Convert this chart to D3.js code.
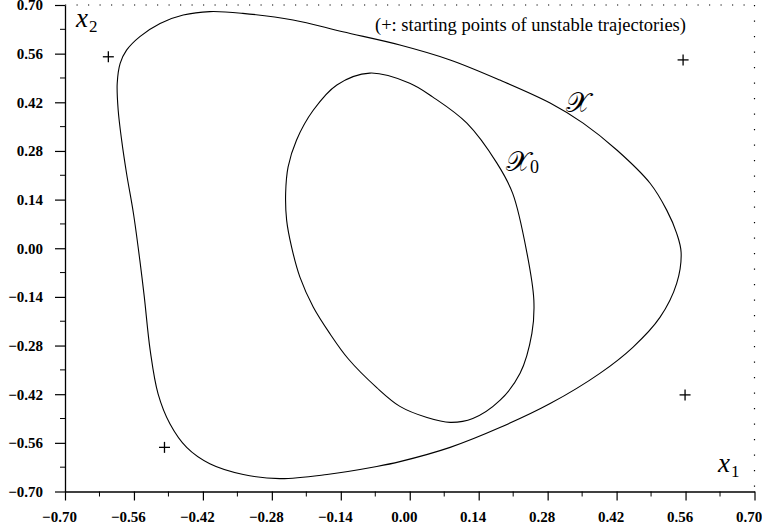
<!DOCTYPE html>
<html>
<head>
<meta charset="utf-8">
<script src="https://cdn.jsdelivr.net/npm/d3@7"></script>
<style>
  body { margin: 0; background: #fff; }
  svg { display: block; }
</style>
</head>
<body>
<svg id="chart" width="762" height="530"></svg>
<script>
// tick values for both axes
const tickValues = [-0.70, -0.56, -0.42, -0.28, -0.14, 0.00, 0.14, 0.28, 0.42, 0.56, 0.70];
const minorTicks = [-0.63, -0.49, -0.35, -0.21, -0.07, 0.07, 0.21, 0.35, 0.49, 0.63];

// outer region X
const outerX = [[-0.406,0.681],[-0.339,0.676],[-0.237,0.657],[-0.136,0.623],[-0.020,0.585],[0.082,0.542],
  [0.183,0.484],[0.285,0.418],[0.352,0.360],[0.421,0.282],[0.488,0.187],[0.522,0.109],[0.542,0.043],
  [0.551,-0.012],[0.542,-0.101],[0.508,-0.199],[0.453,-0.285],[0.386,-0.360],[0.285,-0.447],
  [0.183,-0.516],[0.082,-0.573],[-0.020,-0.614],[-0.067,-0.628],[-0.168,-0.651],[-0.264,-0.663],
  [-0.338,-0.651],[-0.406,-0.620],[-0.453,-0.573],[-0.487,-0.505],[-0.511,-0.419],[-0.527,-0.294],
  [-0.539,-0.140],[-0.548,-0.035],[-0.561,0.100],[-0.575,0.215],[-0.585,0.311],[-0.592,0.397],
  [-0.594,0.474],[-0.588,0.532],[-0.575,0.570],[-0.548,0.609],[-0.507,0.647],[-0.460,0.671]];

// inner region X0
const innerX0 = [[-0.081,0.504],[0.000,0.475],[0.047,0.435],[0.116,0.360],[0.177,0.245],[0.209,0.158],
  [0.238,-0.014],[0.252,-0.150],[0.248,-0.245],[0.224,-0.360],[0.183,-0.438],[0.128,-0.490],
  [0.082,-0.501],[0.035,-0.487],[-0.020,-0.455],[-0.067,-0.401],[-0.125,-0.318],[-0.162,-0.246],
  [-0.196,-0.169],[-0.223,-0.083],[-0.240,0.004],[-0.250,0.081],[-0.252,0.158],[-0.247,0.234],
  [-0.230,0.311],[-0.196,0.397],[-0.148,0.470]];

// starting points of unstable trajectories
const unstablePts = [[-0.612,0.551],[0.555,0.542],[0.559,-0.422],[-0.498,-0.573]];

const svg = d3.select("#chart");
const x = d3.scaleLinear().domain([-0.7, 0.7]).range([65, 754.5]);
const y = d3.scaleLinear().domain([-0.7, 0.7]).range([491.5, 5]);

const fmt = d3.format(".2f");
const serif = "'Liberation Serif', 'Times New Roman', serif";

// dotted frame top / right
svg.append("line")
  .attr("x1", x(-0.7)).attr("x2", x(0.7)).attr("y1", y(0.7)).attr("y2", y(0.7))
  .attr("stroke", "#000").attr("stroke-width", 1.2).attr("stroke-dasharray", "1.2,10.3");
svg.append("line")
  .attr("x1", x(0.7)).attr("x2", x(0.7)).attr("y1", y(0.7)).attr("y2", y(-0.7))
  .attr("stroke", "#000").attr("stroke-width", 1.2).attr("stroke-dasharray", "1.2,14.3");

// axes
const xAxis = svg.append("g")
  .attr("transform", `translate(0,${y(-0.7)})`)
  .call(d3.axisBottom(x).tickValues(tickValues).tickFormat(fmt).tickSize(9).tickSizeOuter(0));
xAxis.selectAll(".tick text").attr("dx", -6).attr("y", 30).attr("dy", 0);

const yAxis = svg.append("g")
  .attr("transform", `translate(${x(-0.7)},0)`)
  .call(d3.axisLeft(y).tickValues(tickValues).tickFormat(fmt).tickSize(10).tickSizeOuter(0));
yAxis.selectAll(".tick text").attr("x", -22);

svg.selectAll("g").attr("font-family", serif).attr("font-size", 15).attr("font-weight", "bold");
svg.selectAll(".domain").attr("stroke-width", 1.3);
svg.selectAll(".tick line").attr("stroke-width", 1.2);

// minor ticks
svg.append("g").selectAll("line").data(minorTicks).join("line")
  .attr("x1", d => x(d)).attr("x2", d => x(d))
  .attr("y1", y(-0.7)).attr("y2", y(-0.7) + 5)
  .attr("stroke", "#000").attr("stroke-width", 1);
svg.append("g").selectAll("line").data(minorTicks).join("line")
  .attr("y1", d => y(d)).attr("y2", d => y(d))
  .attr("x1", x(-0.7)).attr("x2", x(-0.7) - 5)
  .attr("stroke", "#000").attr("stroke-width", 1);

// the two regions
const line = d3.line().x(d => x(d[0])).y(d => y(d[1])).curve(d3.curveCatmullRomClosed.alpha(0.5));
svg.selectAll(".region").data([outerX, innerX0]).join("path")
  .attr("class", "region")
  .attr("d", line)
  .attr("fill", "none").attr("stroke", "#000").attr("stroke-width", 1.1);

// plus markers
const plus = svg.append("g").selectAll("g").data(unstablePts).join("g")
  .attr("transform", d => `translate(${x(d[0])},${y(d[1])})`);
plus.append("line").attr("x1", -5.5).attr("x2", 5.5).attr("stroke", "#000").attr("stroke-width", 1.3);
plus.append("line").attr("y1", -5.5).attr("y2", 5.5).attr("stroke", "#000").attr("stroke-width", 1.3);

// labels
svg.append("text").attr("x", 375).attr("y", 30.5)
  .attr("font-family", serif).attr("font-size", 18.5)
  .text("(+: starting points of unstable trajectories)");

function axisName(px, py, sub) {
  const t = svg.append("text").attr("x", px).attr("y", py).attr("font-family", serif);
  t.append("tspan").attr("font-style", "italic").attr("font-size", 27).text("x");
  t.append("tspan").attr("font-size", 17).attr("dx", 1).attr("dy", 5).text(sub);
}
axisName(76, 27, "2");
axisName(718, 472, "1");

const cal = "'DejaVu Serif', 'DejaVu Sans', serif";
svg.append("text").attr("x", 566).attr("y", 112)
  .attr("font-family", cal).attr("font-size", 28).text("𝒳");
const x0 = svg.append("text").attr("x", 506).attr("y", 171).attr("font-family", cal);
x0.append("tspan").attr("font-size", 28).text("𝒳");
x0.append("tspan").attr("font-family", serif).attr("font-size", 18).attr("dy", 2).text("0");
</script>
</body>
</html>
